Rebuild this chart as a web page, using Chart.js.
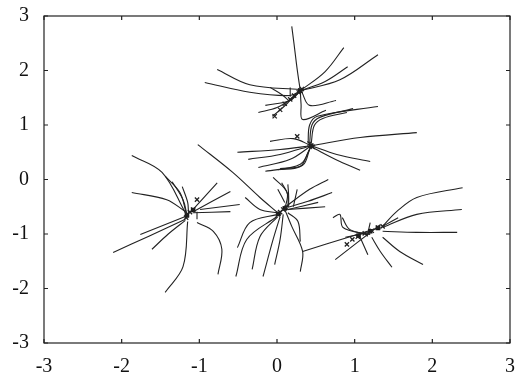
<!DOCTYPE html>
<html><head><meta charset="utf-8">
<script src="https://cdn.jsdelivr.net/npm/chart.js@4/dist/chart.umd.min.js"></script>
<style>html,body{margin:0;padding:0;background:#fff}canvas{display:block}</style>
</head><body>
<canvas id="c" width="521" height="382"></canvas>
<script>
// Axis ticks
const xTicks = [-3,-2,-1,0,1,2,3];
const yTicks = [-3,-2,-1,0,1,2,3];

// Trajectories, grouped by cluster (each curve = list of [x,y])
const clusterA = [
  [[0.19,2.81],[0.22,2.48],[0.26,2.02],[0.30,1.63]],
  [[-0.77,2.02],[-0.35,1.74],[0.30,1.65]],
  [[-0.93,1.78],[-0.35,1.60],[0.17,1.54],[0.30,1.63]],
  [[0.86,2.42],[0.62,1.98],[0.30,1.63]],
  [[0.91,2.07],[0.62,1.80],[0.30,1.63]],
  [[1.30,2.29],[0.81,1.83],[0.30,1.63]],
  [[0.76,1.45],[0.42,1.36],[0.32,1.60]],
  [[0.63,1.27],[0.33,1.10],[0.31,1.38],[0.30,1.63]],
  [[-0.15,1.36],[0.17,1.45],[0.30,1.63]],
  [[-0.09,1.69],[0.06,1.56],[0.15,1.45]],
  [[0.17,1.69],[0.17,1.52]],
  [[-0.06,1.16],[0.06,1.30],[0.17,1.45],[0.30,1.63]],
  [[-0.24,1.23],[0.00,1.32],[0.20,1.50],[0.30,1.63]]
];
const clusterB = [
  [[1.80,0.86],[1.07,0.77],[0.44,0.62]],
  [[-0.51,0.50],[0.04,0.55],[0.44,0.62]],
  [[-0.37,0.37],[0.04,0.46],[0.44,0.62]],
  [[-0.24,0.22],[0.17,0.37],[0.44,0.62]],
  [[-0.15,0.15],[0.30,0.28],[0.44,0.61]],
  [[0.01,0.18],[0.30,0.24],[0.40,0.50],[0.44,0.62]],
  [[0.04,0.20],[0.33,0.26],[0.42,0.55]],
  [[-0.09,0.70],[0.21,0.75],[0.44,0.62]],
  [[0.44,0.62],[0.77,0.46],[1.20,0.33]],
  [[0.44,0.60],[0.81,0.33],[1.07,0.17]],
  [[0.44,0.66],[0.48,0.99],[0.59,1.12],[0.90,1.23]],
  [[0.42,0.66],[0.45,1.00],[0.55,1.14],[0.98,1.30]],
  [[0.40,0.66],[0.42,1.00],[0.52,1.16],[1.30,1.34]]
];
const clusterC = [
  [[-1.87,0.44],[-1.48,0.13],[-1.18,-0.61]],
  [[-1.44,0.06],[-1.25,-0.24],[-1.17,-0.61]],
  [[-1.35,-0.04],[-1.21,-0.37],[-1.16,-0.64]],
  [[-1.22,-0.13],[-1.15,-0.42],[-1.14,-0.61]],
  [[-1.87,-0.24],[-1.42,-0.37],[-1.18,-0.59]],
  [[-2.11,-1.34],[-1.65,-1.04],[-1.18,-0.73]],
  [[-1.76,-1.01],[-1.18,-0.68]],
  [[-1.61,-1.28],[-1.40,-1.00],[-1.18,-0.75]],
  [[-1.44,-2.07],[-1.21,-1.60],[-1.15,-0.77]],
  [[-0.76,-1.74],[-0.71,-1.28],[-0.82,-0.95],[-1.03,-0.79]],
  [[-0.77,-0.06],[-1.08,-0.55]],
  [[-0.60,-0.22],[-1.08,-0.59]],
  [[-0.48,-0.46],[-0.99,-0.55]],
  [[-0.60,-0.59],[-1.08,-0.61]],
  [[-1.03,-0.59],[-1.03,-0.73]]
];
const clusterD = [
  [[-1.02,0.64],[-0.57,0.13],[-0.22,-0.33],[0.01,-0.61]],
  [[-0.05,0.04],[0.13,-0.24],[0.10,-0.55]],
  [[0.06,-0.06],[0.14,-0.28],[0.14,-0.50]],
  [[0.14,-0.09],[0.15,-0.30],[0.15,-0.50]],
  [[0.26,-0.18],[0.21,-0.50]],
  [[0.01,-0.18],[0.10,-0.42]],
  [[0.66,0.00],[0.42,-0.18],[0.10,-0.51]],
  [[0.71,-0.24],[0.40,-0.40],[0.14,-0.51]],
  [[0.53,-0.42],[0.14,-0.55]],
  [[0.62,-0.50],[0.14,-0.55]],
  [[-0.41,-0.33],[-0.22,-0.55],[0.01,-0.61]],
  [[-0.51,-1.25],[-0.35,-0.79],[0.01,-0.64]],
  [[-0.53,-1.78],[-0.39,-1.10],[0.00,-0.68]],
  [[-0.32,-1.65],[-0.22,-1.05],[0.01,-0.68]],
  [[-0.18,-1.78],[-0.05,-1.10],[0.04,-0.68]],
  [[0.30,-1.69],[0.33,-1.32],[0.19,-0.86],[0.10,-0.55]],
  [[-0.03,-1.56],[0.04,-1.10],[0.08,-0.64]],
  [[0.14,-0.61],[0.27,-0.77],[0.30,-1.14]]
];
const clusterE = [
  [[2.39,-0.15],[1.80,-0.33],[1.54,-0.59],[1.36,-0.86]],
  [[2.38,-0.55],[1.80,-0.64],[1.36,-0.88]],
  [[2.32,-0.97],[1.80,-0.97],[1.36,-0.95]],
  [[1.88,-1.56],[1.58,-1.32],[1.36,-1.06]],
  [[1.48,-1.61],[1.33,-1.32],[1.22,-1.06]],
  [[1.17,-1.38],[1.07,-1.06]],
  [[0.75,-1.47],[1.33,-0.83]],
  [[0.33,-1.32],[0.94,-1.05],[1.33,-0.88]],
  [[0.72,-0.70],[0.81,-0.64],[0.85,-0.88],[1.16,-1.01]],
  [[0.84,-0.70],[0.94,-0.92],[1.20,-1.01]],
  [[1.56,-0.70],[1.36,-0.86]],
  [[1.20,-0.79],[1.16,-1.05]],
  [[0.88,-1.06],[1.20,-0.97]]
];

// "x" markers (end points)
const markers = [
  [-0.03,1.16],[0.04,1.28],[0.10,1.39],[0.17,1.47],[0.22,1.54],[0.28,1.60],[0.30,1.63],[0.32,1.66],
  [0.26,0.79],[0.44,0.62],[0.42,0.66],[0.46,0.60],
  [-1.03,-0.37],[-1.16,-0.64],[-1.08,-0.55],[-1.12,-0.60],[-1.17,-0.70],
  [0.08,-0.55],[0.01,-0.64],[0.12,-0.52],[0.04,-0.60],
  [0.90,-1.19],[0.97,-1.10],[1.04,-1.05],[1.13,-0.99],[1.22,-0.94],[1.30,-0.88],[1.36,-0.86]
];

// dense converged blobs at cluster centres
const centres = [
  [0.30,1.63],[0.44,0.62],[-1.16,-0.66],[-1.08,-0.56],[0.02,-0.63],[0.10,-0.53],
  [1.05,-1.03],[1.20,-0.95],[1.30,-0.89]
];

const datasets = [];
[clusterA, clusterB, clusterC, clusterD, clusterE].forEach(cl => cl.forEach(curve => {
  datasets.push({
    data: curve.map(p => ({x:p[0], y:p[1]})),
    showLine: true, borderColor: '#222', borderWidth: 1.1, tension: 0.35,
    pointRadius: 0, fill: false
  });
}));
datasets.push({
  data: markers.map(p => ({x:p[0], y:p[1]})),
  showLine: false, pointStyle: 'crossRot', pointRadius: 3, borderColor: '#222', borderWidth: 1.3,
  backgroundColor: '#222'
});
datasets.push({
  data: centres.map(p => ({x:p[0], y:p[1]})),
  showLine: false, pointStyle: 'rect', pointRadius: 3.2, borderColor: '#111', borderWidth: 0,
  backgroundColor: '#111'
});

const frame = {
  id: 'frame',
  afterDraw(chart) {
    const {ctx, chartArea: a, scales} = chart;
    ctx.save();
    ctx.strokeStyle = '#222'; ctx.lineWidth = 1.2;
    ctx.strokeRect(a.left, a.top, a.right - a.left, a.bottom - a.top);
    const L = 4;
    xTicks.forEach(v => {
      const px = scales.x.getPixelForValue(v);
      ctx.beginPath(); ctx.moveTo(px, a.bottom); ctx.lineTo(px, a.bottom - L);
      ctx.moveTo(px, a.top); ctx.lineTo(px, a.top + L); ctx.stroke();
    });
    yTicks.forEach(v => {
      const py = scales.y.getPixelForValue(v);
      ctx.beginPath(); ctx.moveTo(a.left, py); ctx.lineTo(a.left + L, py);
      ctx.moveTo(a.right, py); ctx.lineTo(a.right - L, py); ctx.stroke();
    });
    ctx.restore();
  }
};

const fontFam = "'Liberation Serif', 'Times New Roman', Times, serif";
new Chart(document.getElementById('c'), {
  type: 'scatter',
  data: { datasets },
  options: {
    responsive: false, animation: false,
    layout: { padding: { top: 16, right: 11, left: 0, bottom: 0 } },
    plugins: { legend: { display: false }, tooltip: { enabled: false } },
    scales: {
      x: {
        type: 'linear', min: -3, max: 3,
        afterBuildTicks: s => { s.ticks = xTicks.map(v => ({value: v})); },
        afterFit: s => { s.height = 39; s.paddingLeft = 0; s.paddingRight = 0; },
        grid: { display: false, drawTicks: false },
        border: { display: false },
        ticks: { color: '#111', padding: 12, maxRotation: 0, font: { family: fontFam, size: 20 } }
      },
      y: {
        type: 'linear', min: -3, max: 3,
        afterBuildTicks: s => { s.ticks = yTicks.map(v => ({value: v})); },
        afterFit: s => { s.width = 44; s.paddingTop = 0; s.paddingBottom = 0; },
        grid: { display: false, drawTicks: false },
        border: { display: false },
        ticks: { color: '#111', padding: 15, font: { family: fontFam, size: 20 } }
      }
    }
  },
  plugins: [frame]
});
</script>
</body></html>
